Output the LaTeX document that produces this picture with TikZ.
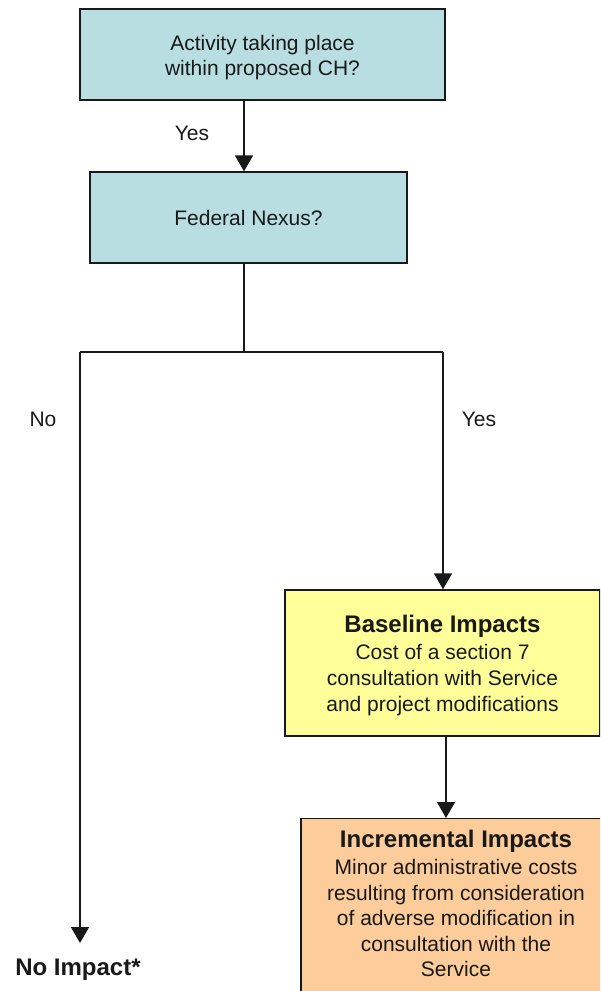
\documentclass[tikz,border=0pt]{standalone}
\usepackage{fontspec}
\setmainfont{Liberation Sans}
\usetikzlibrary{arrows.meta,calc}
\definecolor{aqua}{RGB}{185,222,226}
\definecolor{lemon}{RGB}{255,255,153}
\definecolor{peach}{RGB}{252,204,155}
\definecolor{ink}{RGB}{25,25,25}
\begin{document}
\begin{tikzpicture}[x=1pt,y=-1pt,
  box/.style={draw=ink, line width=1.3pt, align=center, text=ink,
    font=\fontsize{21}{25.5}\selectfont, inner sep=0pt},
  arr/.style={draw=ink, line width=1.5pt, -{Triangle[width=18pt,length=16pt]}},
  ln/.style={draw=ink, line width=1.5pt},
  lbl/.style={font=\fontsize{21}{25}\selectfont, inner sep=0pt, text=ink},
  ttl/.style={font=\fontsize{24}{27}\selectfont\bfseries}]
\useasboundingbox (0,0) rectangle (600,991);
\clip (0,0) rectangle (600,991);

\node[box, fill=aqua, minimum width=365pt, minimum height=91pt] (act) at (262.5,54.5)
  {\rule{0pt}{21.5pt}Activity taking place\\within proposed CH?};
\node[box, fill=aqua, minimum width=317pt, minimum height=91pt] (fed) at (248.5,217.5)
  {Federal Nexus?};
\node[box, fill=lemon, minimum width=315pt, minimum height=146pt,
  font=\fontsize{21}{26}\selectfont] (base) at (442.5,663)
  {\rule{0pt}{22pt}{\fontsize{24}{27}\selectfont\bfseries Baseline Impacts}\\[1.5pt]Cost of a section 7\\consultation with Service\\and project modifications};
\node[box, fill=peach, minimum width=310pt, minimum height=185pt, anchor=north] (inc) at (456,818)
  {{\fontsize{24}{27}\selectfont\bfseries Incremental Impacts}\\[2pt]Minor administrative costs\\resulting from consideration\\of adverse modification in\\consultation with the\\Service\rule[-16pt]{0pt}{1pt}};
\node[ttl, inner sep=0pt, text=ink] (none) at (78,970) {No Impact*};

\node[lbl] (yes1) at (192,133) {Yes};
\node[lbl] (no) at (43,419) {No};
\node[lbl] (yes2) at (479,419) {Yes};

\coordinate (split) at (244,352);
\coordinate (lft) at (80,352);
\coordinate (rgt) at (443,352);

\draw[arr] ([xshift=-18.5pt]act.south) -- ([xshift=-18.5pt]act.south |- fed.north);
\draw[ln] (fed.south -| split) -- (split);
\draw[ln] (lft) -- (rgt);
\draw[arr, shorten >=16pt] (lft) -- (lft |- none.north);
\draw[arr] (rgt) -- (rgt |- base.north);
\draw[arr] ([xshift=3.5pt]base.south) -- ([xshift=3.5pt]base.south |- inc.north);
\end{tikzpicture}
\end{document}
